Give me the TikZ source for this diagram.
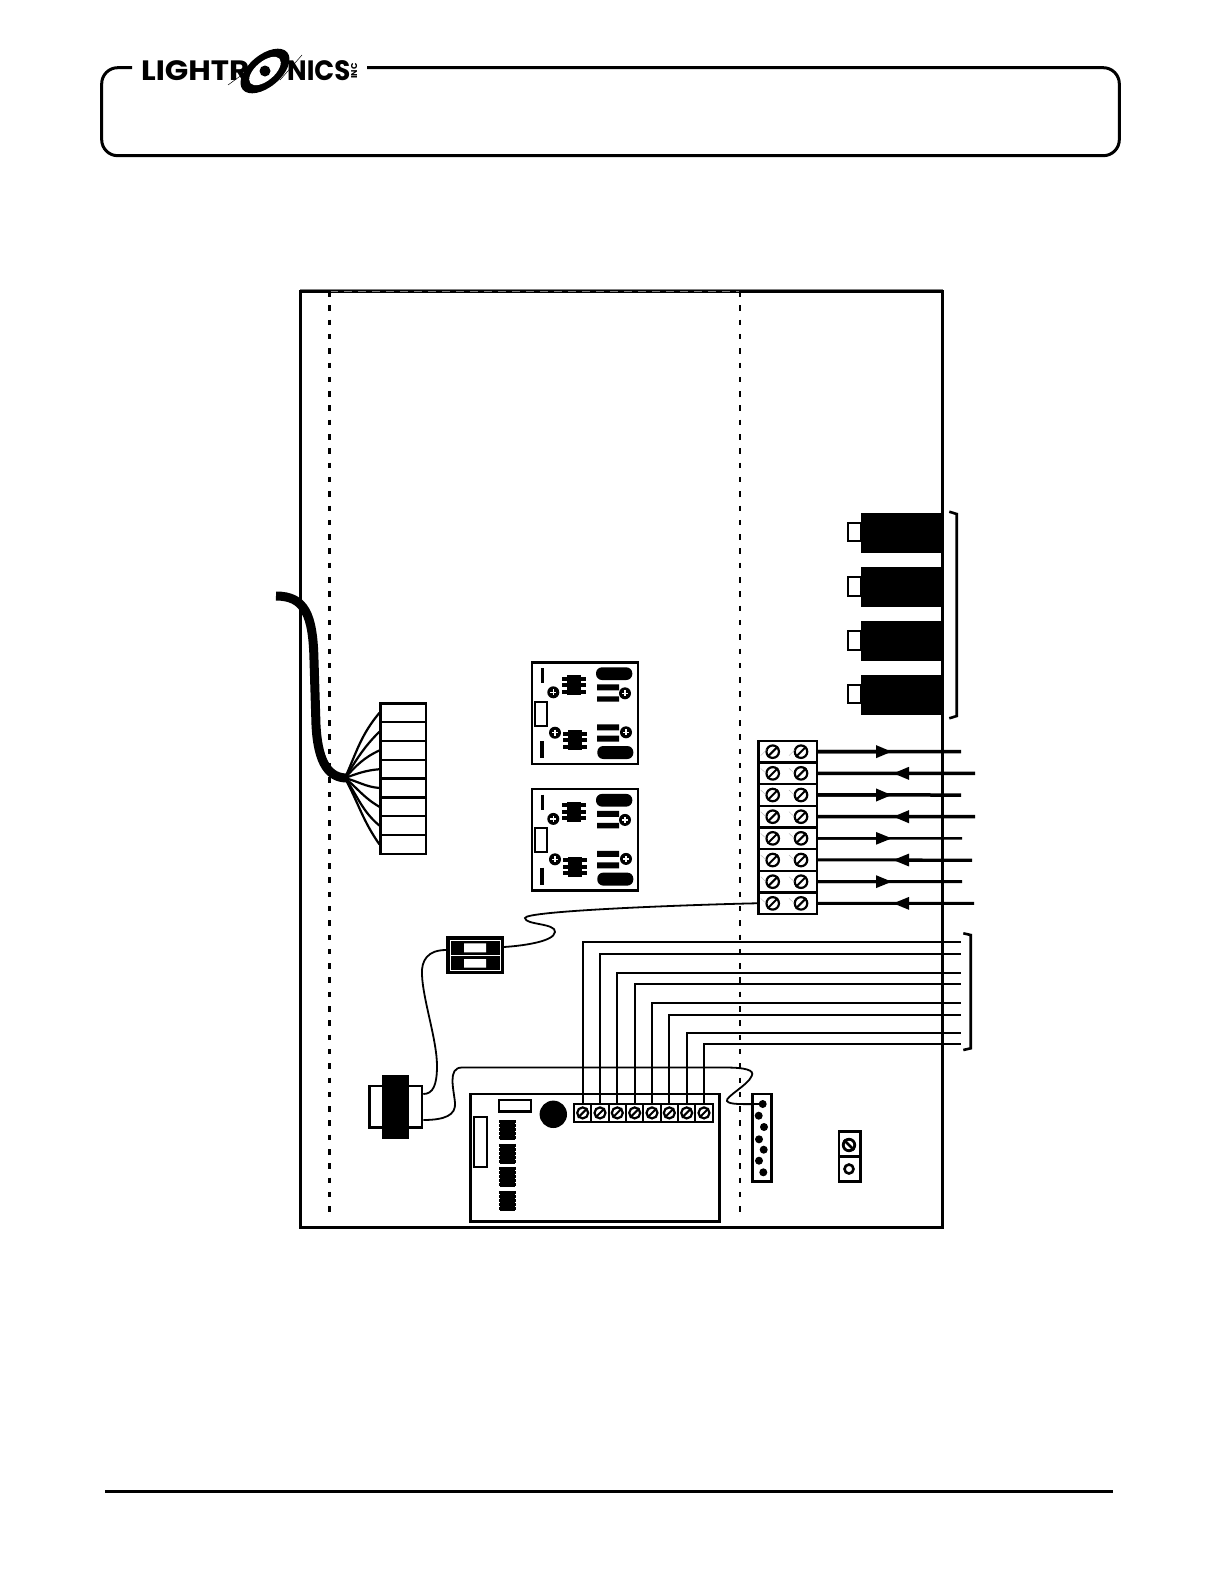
\documentclass[tikz,border=0pt]{standalone}
\usepackage{fontspec}
\newfontfamily\logofont{Poppins}
\usetikzlibrary{arrows.meta,calc}
\tikzset{
  x=1pt,y=-1pt,
  frameline/.style={draw,line width=3},
  dashline/.style={line width=#1,dash pattern=on 5.5pt off 8.8pt},
  thinwire/.style={line width=1.8},
  busswire/.style={line width=2.2},
  cellbox/.style={draw,line width=2.4,inner sep=0,minimum width=#1,fill=white},
  screwhead/.style={circle,draw,line width=2.2,inner sep=0,minimum size=#1,fill=white},
  whitebox/.style={draw,line width=2.5,fill=white},
  screwtick/.style={gray!60,line width=.4},
  logotext/.style={anchor=west,inner sep=0,font=\logofont\bfseries\fontsize{28}{28}\selectfont},
  pinpost/.pic={
    \fill (0,0) circle (6);
    \draw[white,line width=1.2] (-3,0) -- (3,0) (0,-3) -- (0,3);
  },
  boardchip/.pic={
    \fill (-7,-10) rectangle (7,10);
    \draw[line width=4] (-12,-6.5) -- (12,-6.5) (-12,0) -- (12,0) (-12,6.5) -- (12,6.5);
  },
  wiretip/.style={-{Triangle[length=16pt,width=12pt]}}
}
\begin{document}
\begin{tikzpicture}
  \useasboundingbox (0,0) rectangle (1225,1585);

  \draw[frameline,rounded corners=16] (132,67.7) -- (101.7,67.7) -- (101.7,155.7)
    -- (1119.3,155.7) -- (1119.3,67.7) -- (367,67.7);
  \node[logotext,xscale=1.1] (logoleft) at (141,71) {LIGHTR};
  \node[logotext,xscale=.93] (logoright) at (287,71) {NICS};
  \node[rotate=90,inner sep=0,font=\logofont\bfseries\fontsize{8.5}{9}\selectfont] (logoinc) at (354,71) {INC};
  \fill[rotate around={40:(265,71)}] (265,71) ellipse (29 and 16);
  \fill[white,rotate around={40:(265,71)}] (265,71) ellipse (19 and 9.5);
  \fill (265,71) circle (5.5);
  \draw[line width=.5] (228,85) -- (254,66) (280,80) -- (302,55);

  \draw[line width=3] (300,291) rectangle (942.7,1227);
  \draw[gray,line width=1] (300,289.5) -- (942.7,289.5);
  \draw[gray,line width=1,dash pattern=on 8pt off 6pt] (330,291.5) -- (740,291.5);
  \draw[dashline=2.7] (329.5,291) -- (329.5,1220);
  \draw[dashline=1.8] (740,291) -- (740,1220);

  \draw[line width=9] (276,596) .. controls (305,596) and (313,615) .. (314,660)
    -- (316,725) .. controls (318,765) and (330,778) .. (347,778);
  \coordinate (hub) at (345,778);
  \foreach \i/\o/\n in {1/66/230,2/58/225,3/48/205,4/20/185,5/-15/175,6/-40/150,7/-55/140,8/-62/125}{
    \node[cellbox=45.3,minimum height=18.8] (cell\i) at (403.3,{694+18.8*\i}) {};
    \draw[line width=2.2] (hub) to[out=\o,in=\n] (cell\i.west);
  }

  \foreach \b/\s in {a/0,b/126.6}{
    \begin{scope}[yshift=-\s pt]
      \node[cellbox=106,minimum height=101.3] (board\b) at (584.7,713.3) {};
      \draw[line width=3] (542.3,668) -- (542.3,683);
      \draw[line width=4] (542.3,741) -- (542.3,758);
      \draw[line width=2] (535,701.7) rectangle (547,725.7);
      \pic at (553.3,692.3) {pinpost};
      \pic at (555,732.7) {pinpost};
      \pic at (625,693.3) {pinpost};
      \pic at (626,732.3) {pinpost};
      \pic at (574,685.3) {boardchip};
      \pic at (575,740) {boardchip};
      \fill[rounded corners=6] (596,667.3) rectangle (632.3,680);
      \fill[rounded corners=6] (597.3,746) rectangle (633.3,759);
      \fill (597,684.3) rectangle (619,690.3) (597,696.3) rectangle (619,701.7);
      \fill (597,724.3) rectangle (619,730.3) (597,735.7) rectangle (619,741.7);
    \end{scope}
  }

  \foreach \y/\p in {513.3/522.7,567.3/577.3,621.3/631.3,675.3/684.7}{
    \draw[line width=2.2] (848,\p) rectangle ++(13,18.6);
    \fill (861,\y) rectangle ++(81.7,39.4);
  }
  \draw[line width=2.6] (949.3,511.7) -- (956.7,514) -- (956.7,716) -- (949.3,718.3);

  \foreach \i in {1,...,8}{
    \node[cellbox=58.4,minimum height=21.67] (term\i) at (787.8,{729.9+21.67*\i}) {};
    \node[screwhead=12.5] (sa\i) at (772.7,{730+21.67*\i}) {};
    \node[screwhead=12.5] (sb\i) at (801,{730+21.67*\i}) {};
    \draw[line width=2] (sa\i.225) -- (sa\i.45);
    \draw[line width=2] (sb\i.225) -- (sb\i.45);
  }
  \draw[screwtick] ($(sa1)+(-12,4)$) -- ($(sa1)+(-6,-2)$) ($(sb1)+(-12,4)$) -- ($(sb1)+(-6,-2)$);
  \foreach \i in {2,...,8}{
    \draw[screwtick] ($(sa\i)+(-12,-5)$) -- ($(sa\i)+(-6.7,0)$) ($(sb\i)+(-12,-5)$) -- ($(sb\i)+(-6.7,0)$);
  }
  \foreach \i/\ex/\w in {1/961/3.5,3/961/3.5,5/962/2.5,7/962/3}{
    \coordinate (end\i) at (\ex,{730+21.67*\i});
    \coordinate (tip\i) at (892,{730+21.67*\i});
    \draw[line width=\w] (term\i.east) -- (end\i);
    \draw[wiretip,line width=\w] (term\i.east) -- (tip\i);
  }
  \foreach \i/\ex/\w in {2/975/3.5,4/975/3.5,6/972/3,8/974/3}{
    \coordinate (end\i) at (\ex,{730+21.67*\i});
    \coordinate (tip\i) at (893,{730+21.67*\i});
    \draw[line width=\w] (term\i.east) -- (end\i);
    \draw[wiretip,line width=\w] (end\i) -- (tip\i);
  }

  \node[draw,line width=2.2,fill=black,inner sep=0,minimum width=55.4,minimum height=36] (breaker) at (475,955.3) {};
  \draw[white,line width=.9] (450,940) rectangle (500.5,970.5) (450,955.3) -- (500.5,955.3);
  \fill[white] (464,943.3) rectangle (486,952.3) (464,959) rectangle (486,967.7);

  \draw[thinwire] (term8.west) .. controls (680,905) and (525,911) .. (525,918)
    .. controls (525,925) and (556,923) .. (555,932)
    .. controls (554,942) and (520,946) .. (breaker.east |- 0,947);
  \node[whitebox,inner sep=0,minimum width=52.7,minimum height=41.3] (transformer) at (395.7,1106.7) {};
  \fill (382,1075) rectangle (409,1139);
  \draw[thinwire] (breaker.west |- 0,950) .. controls (428,950) and (421,960) .. (422,975)
    .. controls (423,1000) and (437,1040) .. (437,1066)
    .. controls (437,1085) and (433,1094) .. (transformer.east |- 0,1094);

  \node[cellbox=248.6,minimum height=127.7,line width=2.7] (ctrl) at (595,1157.9) {};
  \draw[line width=2.5] (499,1100) rectangle (531,1111.7);
  \fill (553.3,1114.3) circle (13.7);
  \draw[line width=2.2] (474.3,1117.3) rectangle (487,1167.3);
  \foreach \t in {1120,1144.3,1167.3,1191}{
    \fill (500,\t) rectangle ++(14.7,20);
    \draw[line width=16.4,dash pattern=on 3pt off 1pt] (507.3,\t) -- ++(0,20);
  }

  \foreach \i/\x/\y in {1/582.7/942,2/600/953.7,3/617.3/972.7,4/634.7/984,5/652/1003.3,6/669.3/1014.7,7/686.7/1033,8/704/1044}{
    \node[cellbox=17.4,minimum height=17.6,line width=2.2] (ch\i) at (\x,1112.9) {};
    \node[screwhead=11] (cs\i) at (\x,1112.9) {};
    \draw[line width=2] (cs\i.225) -- (cs\i.45);
    \coordinate (bus\i) at (961,\y);
    \draw[busswire] (ch\i.north) |- (bus\i);
  }
  \draw[line width=2.6] (963.3,933.3) -- (970.7,935) -- (970.7,1048.3) -- (963.3,1050);

  \node[cellbox=19.4,minimum height=87.7,line width=2.7] (header) at (762,1137.9) {};
  \foreach \n/\x/\y in {1/762.7/1104,2/758.7/1115.7,3/764/1127,4/759/1139.3,5/763.7/1149.7,6/759/1160.7,7/763.3/1172.3}{
    \node[circle,fill=black,inner sep=0,minimum size=8] (pin\n) at (\x,\y) {};
  }
  \draw[thinwire] (transformer.east |- 0,1120) .. controls (445,1120) and (456,1115) .. (455,1103)
    .. controls (454,1090) and (447,1067.5) .. (462,1067.5)
    -- (725,1067.5) .. controls (745,1067.5) and (755,1070) .. (751.7,1076)
    .. controls (748,1085) and (725,1097) .. (727,1101)
    .. controls (729,1105) and (745,1104) .. (pin1.center);

  \node[cellbox=21.6,minimum height=25.4,line width=2.7] (lugtop) at (849.9,1144) {};
  \node[cellbox=21.6,minimum height=24.6,line width=2.7] (lugbot) at (849.9,1169) {};
  \node[screwhead=11.5,line width=2.8] (lugscrew) at (849,1145) {};
  \draw[line width=2.8] (lugscrew.135) -- (lugscrew.315);
  \node[screwhead=9,line width=2.6] (lugring) at (849,1169) {};

  \draw[line width=3] (105,1491.3) -- (1112.7,1491.3);
\end{tikzpicture}
\end{document}
